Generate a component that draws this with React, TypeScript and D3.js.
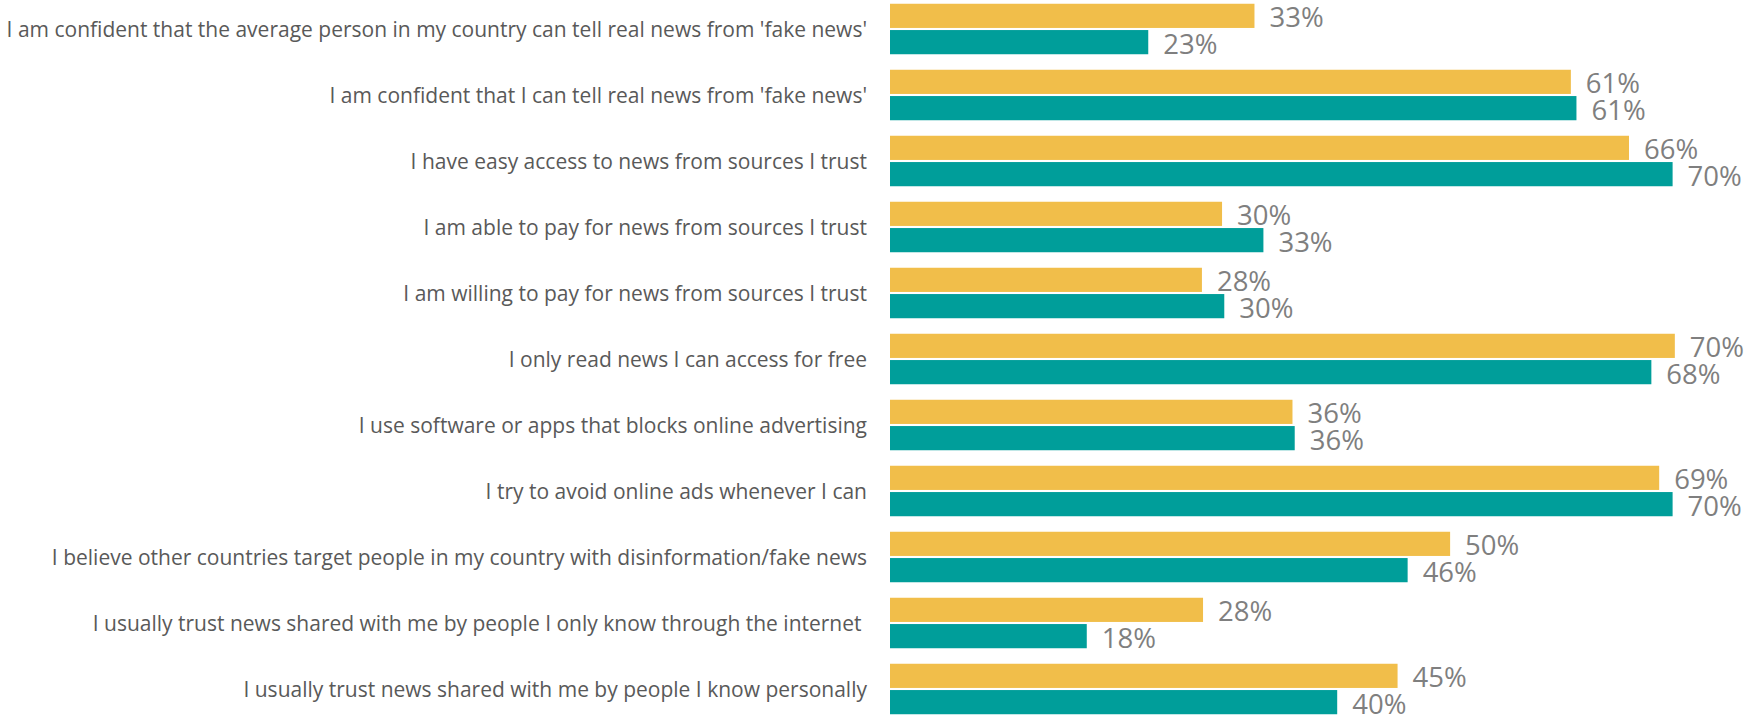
import React from "react";
import * as d3 from "d3";

const categories = [
  "I am confident that the average person in my country can tell real news from 'fake news'",
  "I am confident that I can tell real news from 'fake news'",
  "I have easy access to news from sources I trust",
  "I am able to pay for news from sources I trust",
  "I am willing to pay for news from sources I trust",
  "I only read news I can access for free",
  "I use software or apps that blocks online advertising",
  "I try to avoid online ads whenever I can",
  "I believe other countries target people in my country with disinformation/fake news",
  "I usually trust news shared with me by people I only know through the internet ",
  "I usually trust news shared with me by people I know personally",
];

const seriesNames = ["A", "B"];
const seriesA = [32.6, 60.9, 66.1, 29.7, 27.9, 70.2, 36.0, 68.8, 50.1, 28.0, 45.4];
const seriesB = [23.1, 61.4, 70.0, 33.4, 29.9, 68.1, 36.2, 70.0, 46.3, 17.6, 40.0];
const colors = ["#F1BE4A", "#009E9A"];

const W = 1748;
const H = 717;

export default function App() {
  const x = d3.scaleLinear().domain([0, 100]).range([890, 2008]);
  const y = d3
    .scaleBand<string>()
    .domain(categories)
    .range([-4, 722])
    .paddingInner(0.235)
    .paddingOuter(0.1175);
  const sub = d3
    .scaleBand<string>()
    .domain(seriesNames)
    .range([0, y.bandwidth()])
    .paddingInner(0.08);
  const values = [seriesA, seriesB];

  return (
    <svg
      width={W}
      height={H}
      style={{ position: "absolute", left: 0, top: 0, background: "#fff" }}
    >
      {categories.map((c, i) => (
        <g key={c}>
          <text
            x={867}
            y={(y(c) ?? 0) + y.bandwidth() / 2}
            textAnchor="end"
            dominantBaseline="central"
            fontFamily="'Open Sans', sans-serif"
            fontSize={21}
            fill="#595959"
            style={{ whiteSpace: "pre" }}
          >
            {c}
          </text>
          {seriesNames.map((s, j) => {
            const v = values[j][i];
            const by = (y(c) ?? 0) + (sub(s) ?? 0);
            return (
              <g key={s}>
                <rect
                  x={x(0)}
                  y={by}
                  width={x(v) - x(0)}
                  height={sub.bandwidth()}
                  fill={colors[j]}
                />
                <text
                  x={x(v) + 15}
                  y={by + sub.bandwidth() / 2 + 1}
                  dominantBaseline="central"
                  fontFamily="'Open Sans', sans-serif"
                  fontSize={27.5}
                  fill="#7F7F7F"
                >
                  {`${Math.round(v)}%`}
                </text>
              </g>
            );
          })}
        </g>
      ))}
    </svg>
  );
}
